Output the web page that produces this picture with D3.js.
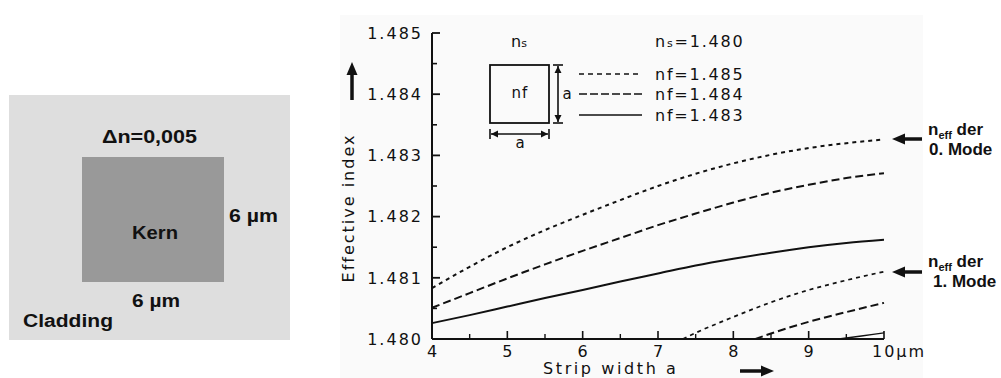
<!DOCTYPE html>
<html><head><meta charset="utf-8">
<script src="https://cdn.jsdelivr.net/npm/d3@7"></script>
<style>
html,body{margin:0;padding:0;background:#fff;}
svg{display:block;}
.tk{font-family:"DejaVu Sans",sans-serif;font-size:16px;letter-spacing:2px;fill:#111;}
.bold{font-family:"Liberation Sans",Arial,sans-serif;font-weight:bold;fill:#111;}
</style>
</head><body>
<svg id="c" width="1001" height="378"></svg>
<script>
// ---- data ----
const xTicks = [4,5,6,7,8,9,10];
const xTickLabels = ["4","5","6","7","8","9","10µm"];
const yTicks = [1.480,1.481,1.482,1.483,1.484,1.485];
const yTickLabels = ["1.480","1.481","1.482","1.483","1.484","1.485"];
const xMinor = [4.5,5.5,6.5,7.5,8.5,9.5];
const yMinor = [1.4805,1.4815,1.4825,1.4835,1.4845];

// mode 0
const m0x = [4,4.5,5,5.5,6,6.5,7,7.5,8,8.5,9,9.5,10];
const m0_nf1485 = [1.48083,1.48118,1.48150,1.48178,1.48203,1.48227,1.48250,1.48270,1.48287,1.48301,1.48312,1.48320,1.48326];
const m0_nf1484 = [1.48051,1.48075,1.48099,1.48122,1.48144,1.48165,1.48186,1.48205,1.48223,1.48239,1.48252,1.48263,1.48271];
const m0_nf1483 = [1.48026,1.48039,1.48053,1.48067,1.48080,1.48094,1.48107,1.48120,1.48131,1.48141,1.48150,1.48157,1.48162];
// mode 1
const m1_nf1485_x = [7.33,7.5,8,8.5,9,9.5,10];
const m1_nf1485 = [1.48000,1.48010,1.48036,1.48060,1.48080,1.48096,1.48110];
const m1_nf1484_x = [8.29,8.5,9,9.5,10];
const m1_nf1484 = [1.48000,1.48009,1.48028,1.48044,1.48059];
const m1_nf1483_x = [9.4,9.7,10];
const m1_nf1483 = [1.48000,1.48005,1.48010];

const legendLabels = ["nf=1.485","nf=1.484","nf=1.483"];

const svg = d3.select("#c");

// ---- left panel ----
svg.append("rect").attr("x",9).attr("y",95).attr("width",281).attr("height",245).attr("fill","#dedede");
svg.append("rect").attr("x",82).attr("y",157).attr("width",142).attr("height",125).attr("fill","#999999");
function btxt(t,x,y,size,anchor,len){
  const e = svg.append("text").attr("class","bold").attr("x",x).attr("y",y)
    .attr("font-size",size).attr("text-anchor",anchor||"start").text(t);
  if(len) e.attr("textLength",len).attr("lengthAdjust","spacingAndGlyphs");
  return e;
}
btxt("Δn=0,005",102,143,18,"start",95);
btxt("Kern",132,239,18,"start",46);
btxt("6 µm",229,222,18,"start",49);
btxt("6 µm",132,307,18,"start",48);
btxt("Cladding",23,327,18,"start",90);

// ---- right panel ----
svg.append("rect").attr("x",340).attr("y",15).attr("width",583).attr("height",363).attr("fill","#fafafa");

const x = d3.scaleLinear().domain([4,10]).range([432,884]);
const y = d3.scaleLinear().domain([1.480,1.485]).range([339,33]);
const ink = "#111";

// axes lines
svg.append("line").attr("x1",x(4)).attr("x2",x(4)).attr("y1",y(1.485)).attr("y2",y(1.480)).attr("stroke",ink).attr("stroke-width",2);
svg.append("line").attr("x1",x(4)).attr("x2",x(10)).attr("y1",y(1.480)).attr("y2",y(1.480)).attr("stroke",ink).attr("stroke-width",2);

// y ticks (inside)
svg.selectAll(".ytk").data(yTicks).enter().append("line")
  .attr("x1",x(4)).attr("x2",x(4)+8).attr("y1",d=>y(d)).attr("y2",d=>y(d)).attr("stroke",ink).attr("stroke-width",1.8);
svg.selectAll(".ytm").data(yMinor).enter().append("line")
  .attr("x1",x(4)).attr("x2",x(4)+5).attr("y1",d=>y(d)).attr("y2",d=>y(d)).attr("stroke",ink).attr("stroke-width",1.6);
svg.selectAll(".ytl").data(yTicks).enter().append("text").attr("class","tk")
  .attr("x",x(4)-9).attr("y",d=>y(d)).attr("dy","0.36em").attr("text-anchor","end")
  .text((d,i)=>yTickLabels[i]);

// x ticks (inside)
svg.selectAll(".xtk").data(xTicks.slice(1)).enter().append("line")
  .attr("x1",d=>x(d)).attr("x2",d=>x(d)).attr("y1",y(1.480)).attr("y2",y(1.480)-8).attr("stroke",ink).attr("stroke-width",1.6);
svg.selectAll(".xtm").data(xMinor).enter().append("line")
  .attr("x1",d=>x(d)).attr("x2",d=>x(d)).attr("y1",y(1.480)).attr("y2",y(1.480)-5).attr("stroke",ink).attr("stroke-width",1.4);
svg.selectAll(".xtl").data(xTicks).enter().append("text").attr("class","tk")
  .attr("x",(d,i)=> i===xTicks.length-1 ? x(d)-12 : x(d)+1)
  .attr("y",357).attr("text-anchor",(d,i)=> i===xTicks.length-1 ? "start":"middle")
  .text((d,i)=>xTickLabels[i]);

// axis titles
svg.append("text").attr("class","tk").attr("transform","translate(354,208) rotate(-90)")
  .attr("text-anchor","middle").text("Effective index");
svg.append("text").attr("class","tk").attr("x",543).attr("y",374).attr("style","letter-spacing:2.6px").text("Strip width a");

// arrows on axis titles
svg.append("line").attr("x1",352).attr("x2",352).attr("y1",100).attr("y2",72).attr("stroke",ink).attr("stroke-width",3.5);
svg.append("path").attr("d","M352,62 L346.5,75 L357.5,75 Z").attr("fill",ink);
svg.append("line").attr("x1",740).attr("x2",763).attr("y1",371).attr("y2",371).attr("stroke",ink).attr("stroke-width",3.5);
svg.append("path").attr("d","M774,371 L761,365.5 L761,376.5 Z").attr("fill",ink);

// curves
const line = d3.line().x(d=>x(d[0])).y(d=>y(d[1])).curve(d3.curveMonotoneX);
const shortDash = "4,4", longDash = "8,4";
function curve(xs,vs,dash,w){
  svg.append("path").attr("d",line(xs.map((v,i)=>[v,vs[i]])))
    .attr("fill","none").attr("stroke",ink).attr("stroke-width",w||2)
    .attr("stroke-dasharray",dash);
}
curve(m0x,m0_nf1485,shortDash);
curve(m0x,m0_nf1484,longDash);
curve(m0x,m0_nf1483,null);
curve(m1_nf1485_x,m1_nf1485,shortDash,1.7);
curve(m1_nf1484_x,m1_nf1484,longDash);
curve(m1_nf1483_x,m1_nf1483,null,1.4);

// inset legend / sketch
svg.append("rect").attr("x",490).attr("y",65).attr("width",59).attr("height",58).attr("fill","none").attr("stroke",ink).attr("stroke-width",1.8);
const small = "font-family:'DejaVu Sans',sans-serif;fill:#111;";
svg.append("text").attr("x",519).attr("y",47).attr("text-anchor","middle").attr("style",small+"font-size:16px;")
  .html('n<tspan font-size="11">s</tspan>');
svg.append("text").attr("x",520).attr("y",98).attr("text-anchor","middle").attr("style",small+"font-size:15px;letter-spacing:1px;")
  .text("nf");
// vertical dimension
svg.append("line").attr("x1",558).attr("x2",558).attr("y1",66).attr("y2",122).attr("stroke",ink).attr("stroke-width",1.6);
svg.append("path").attr("d","M558,66 L554.5,73 L561.5,73 Z M558,122 L554.5,115 L561.5,115 Z").attr("fill",ink);
svg.append("line").attr("x1",553).attr("x2",563).attr("y1",65).attr("y2",65).attr("stroke",ink).attr("stroke-width",1.6);
svg.append("line").attr("x1",553).attr("x2",563).attr("y1",123).attr("y2",123).attr("stroke",ink).attr("stroke-width",1.6);
svg.append("text").attr("x",567).attr("y",99).attr("text-anchor","middle").attr("style",small+"font-size:15px;").text("a");
// horizontal dimension
svg.append("line").attr("x1",491).attr("x2",548).attr("y1",134).attr("y2",134).attr("stroke",ink).attr("stroke-width",1.6);
svg.append("path").attr("d","M491,134 L498,130.5 L498,137.5 Z M548,134 L541,130.5 L541,137.5 Z").attr("fill",ink);
svg.append("line").attr("x1",490).attr("x2",490).attr("y1",129).attr("y2",139).attr("stroke",ink).attr("stroke-width",1.6);
svg.append("line").attr("x1",549).attr("x2",549).attr("y1",129).attr("y2",139).attr("stroke",ink).attr("stroke-width",1.6);
svg.append("text").attr("x",520).attr("y",148).attr("text-anchor","middle").attr("style",small+"font-size:15px;").text("a");

// legend lines
const legY = [74,94,115];
const legDash = ["5,4","8,3",null];
legY.forEach((ly,i)=>{
  svg.append("line").attr("x1",579).attr("x2",642).attr("y1",ly).attr("y2",ly)
    .attr("stroke",ink).attr("stroke-width",1.6).attr("stroke-dasharray",legDash[i]);
  svg.append("text").attr("class","tk").attr("x",655).attr("y",ly+6).attr("style","letter-spacing:1.8px").text(legendLabels[i]);
});
svg.append("text").attr("class","tk").attr("x",655).attr("y",47).attr("style","letter-spacing:1.8px")
  .html('n<tspan font-size="11">s</tspan>=1.480');

// right annotations
function annot(yArrow, y1, y2, label2, x2){
  svg.append("line").attr("x1",903).attr("x2",922).attr("y1",yArrow).attr("y2",yArrow).attr("stroke",ink).attr("stroke-width",3.5);
  svg.append("path").attr("d",`M892,${yArrow} L905,${yArrow-5.5} L905,${yArrow+5.5} Z`).attr("fill",ink);
  const t = svg.append("text").attr("class","bold").attr("x",928).attr("y",y1).attr("font-size",17);
  t.append("tspan").text("n");
  t.append("tspan").attr("font-size",11).attr("dy",4).text("eff");
  t.append("tspan").attr("dy",-4).text(" der");
  btxt(label2,x2,y2,17,"start");
}
annot(139,135,155,"0. Mode",929);
annot(272,267,287,"1. Mode",933);
</script>
</body></html>
